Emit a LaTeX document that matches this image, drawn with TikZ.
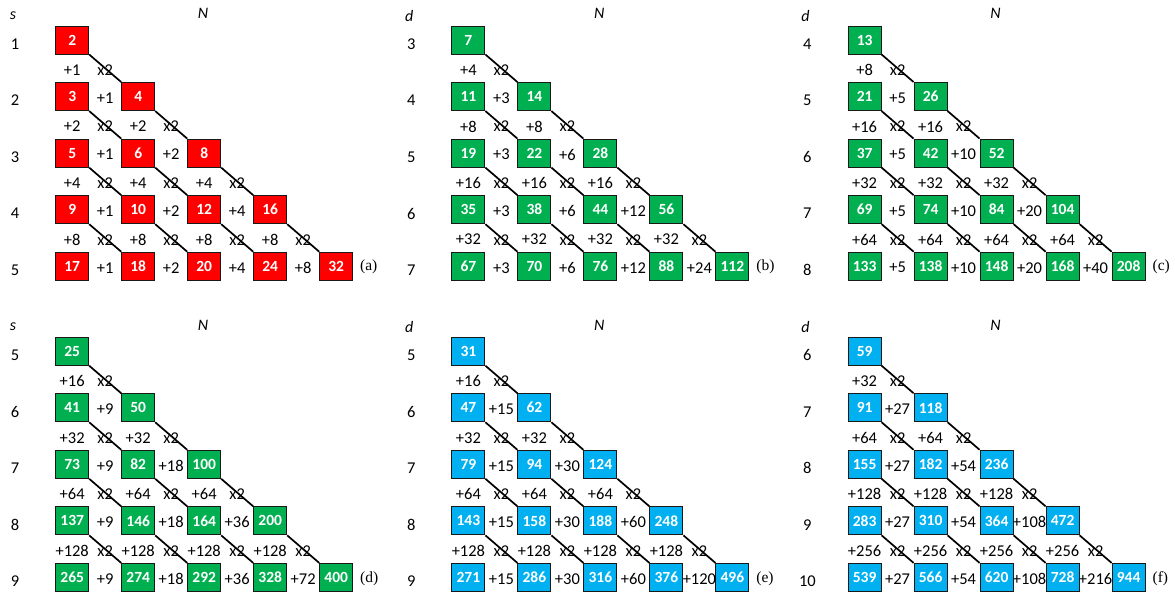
\documentclass[tikz,border=0pt]{standalone}
\usepackage{fontspec}
\setmainfont{Carlito}
\newfontfamily\capfont{Liberation Serif}
\definecolor{cred}{HTML}{FF0000}
\definecolor{cgreen}{HTML}{00B050}
\definecolor{cblue}{HTML}{00B0F0}
\tikzset{
  numbox/.style={draw=black!90, line width=1pt, fill=#1, minimum width=33pt,
    minimum height=28pt, inner sep=0pt, text=white,
    font=\bfseries\fontsize{15.5}{18}\selectfont},
  inclabel/.style={inner sep=0pt, font=\fontsize{16.5}{18}\selectfont},
  axlabel/.style={inner sep=0pt, font=\itshape\fontsize{16}{18}\selectfont},
  tagl/.style={inner sep=0pt, anchor=west, font=\capfont\fontsize{15.5}{18}\selectfont},
  diagline/.style={line width=1.7pt, black}
}

\begin{document}
\begin{tikzpicture}[x=1pt,y=-1pt]
  \useasboundingbox (0,0) rectangle (1175,592);
  % one triangle per panel: name/x/y/colour/axis/first row/first value/step down/step right
  \foreach \p/\ox/\oy/\col/\ax/\rs/\fz/\vv/\hh in {
      a/0/0/cred/s/1/2/1/1, b/396.2/0/cgreen/d/3/7/4/3, c/792.4/0/cgreen/d/4/13/8/5,
      d/0/311.2/cgreen/s/5/25/16/9, e/396.2/311.2/cblue/d/5/31/16/15,
      f/792.4/311.2/cblue/d/6/59/32/27}{
    % Axis names
    \node[axlabel] (\p-ax) at ({\ox+13},{\oy+15.8}) {\ax};
    \node[axlabel] (\p-N) at ({\ox+203},{\oy+13.8}) {N};
    % Boxes and row numbers
    \foreach \r in {0,...,4}{
      \pgfmathtruncatemacro\rl{\rs+\r}
      \node[inclabel] (\p-row-\r) at ({\ox+15},{\oy+44+56.55*\r}) {\rl};
      \foreach \j in {0,...,\r}{
        \pgfmathtruncatemacro\val{\fz+\vv*(2^\r-1)+\hh*(2^\j-1)}
        \node[numbox=\col] (\p-\r-\j) at ({\ox+72.2+66*\j},{\oy+40+56.55*\r}) {\val};
      }
    }
    % Steps along a row
    \foreach \r in {1,...,4}{
      \foreach \j in {1,...,\r}{
        \pgfmathtruncatemacro\inc{\hh*2^(\j-1)}
        \node[inclabel] (\p-h-\r-\j) at ({\ox+72.2+66*(\j-0.5)},{\oy+41.5+56.55*\r}) {+\inc};
      }
    }
    % Steps down and doubling lines
    \foreach \r in {0,...,3}{
      \pgfmathtruncatemacro\inc{\vv*2^\r}
      \pgfmathtruncatemacro\rn{\r+1}
      \foreach \j in {0,...,\r}{
        \pgfmathtruncatemacro\jn{\j+1}
        \node[inclabel] (\p-v-\r-\j) at ({\ox+72.2+66*\j},{\oy+70+56.55*\r}) {+\inc};
        \node[inclabel] (\p-x-\r-\j) at ({\ox+105.2+66*\j},{\oy+70+56.55*\r}) {x2};
        \draw[diagline] (\p-\r-\j.south east) -- (\p-\rn-\jn.north west);
      }
    }
    % Panel tag
    \node[tagl] (\p-tag) at ({\ox+360},{\oy+267.2}) {(\p)};
  }
\end{tikzpicture}
\end{document}
